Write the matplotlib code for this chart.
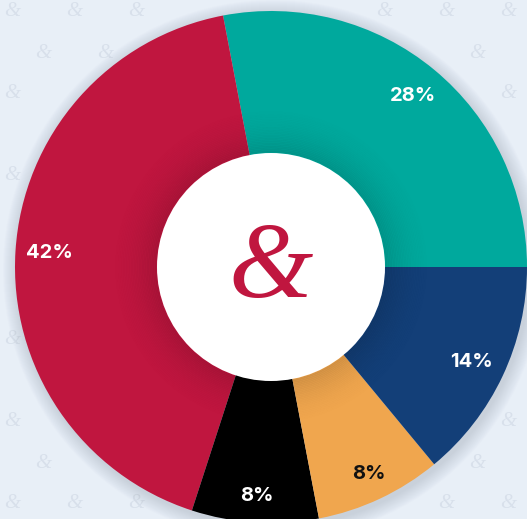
import numpy as np
import matplotlib.pyplot as plt
from matplotlib.patches import Circle, Wedge

labels = ["Teal", "Red", "Black", "Orange", "Blue"]
shares = [28, 42, 8, 8, 14]
colors = ["#00A99D", "#C0163F", "#000000", "#F0A64E", "#133F78"]
text_colors = ["white", "white", "white", "#111111", "white"]

bg = "#E8EFF7"
W, H = 527, 519
cx, cy = 271, 252
R = 256
r_hole = 114

fig = plt.figure(figsize=(W / 100, H / 100), dpi=100)
fig.patch.set_facecolor(bg)
ax = fig.add_axes([0, 0, 1, 1])
ax.set_xlim(0, W)
ax.set_ylim(0, H)
ax.set_aspect("equal")
ax.axis("off")

# faint ampersand wallpaper (only where it is visible, outside the disc)
for row, y in enumerate(np.arange(H - 12, 0, -41)):
    off = 0 if row % 2 == 0 else 31
    for x in np.arange(12 + off, W - 8, 62):
        if np.hypot(x - cx, y - cy) < R + 12:
            continue
        ax.text(x, y, "&", fontsize=15, family="Liberation Serif", style="italic",
                color="#D8E0EB", ha="center", va="center", zorder=0)

# soft outer shadow
for i in range(14):
    ax.add_patch(Circle((cx + 2, cy - 3), R + 14 - i, color="#8A96A8",
                        alpha=0.025, lw=0, zorder=1))

wedges, _ = ax.pie(shares, colors=colors, startangle=0, counterclock=True,
                   center=(cx, cy), radius=R, frame=True,
                   wedgeprops=dict(linewidth=0))
for w in wedges:
    w.set_zorder(2)
ax.set_xlim(0, W)
ax.set_ylim(0, H)
ax.axis("off")

# shading cast by the centre disc
for i in range(30):
    ax.add_patch(Wedge((cx, cy), r_hole + 2 + i * 1.6, 0, 360, width=1.8,
                       color="black", alpha=0.11 * (1 - i / 30) ** 2, lw=0, zorder=3))

ax.add_patch(Circle((cx, cy), r_hole, color="white", lw=0, zorder=4))
ax.text(cx, cy - 4, "&", fontsize=78, family="Liberation Serif", style="italic",
        color="#C0163F", ha="center", va="center", zorder=5)

# percentage labels
start = 0
for share, tc in zip(shares, text_colors):
    mid = np.deg2rad(start + share * 3.6 / 2)
    dist = 222 if share > 10 else 229
    ax.text(cx + dist * np.cos(mid), cy + dist * np.sin(mid), f"{share}%",
            fontsize=14.5, family="Inter", weight="bold", color=tc,
            ha="center", va="center", zorder=6)
    start += share * 3.6

fig.savefig("out.png", dpi=100, facecolor=bg)
